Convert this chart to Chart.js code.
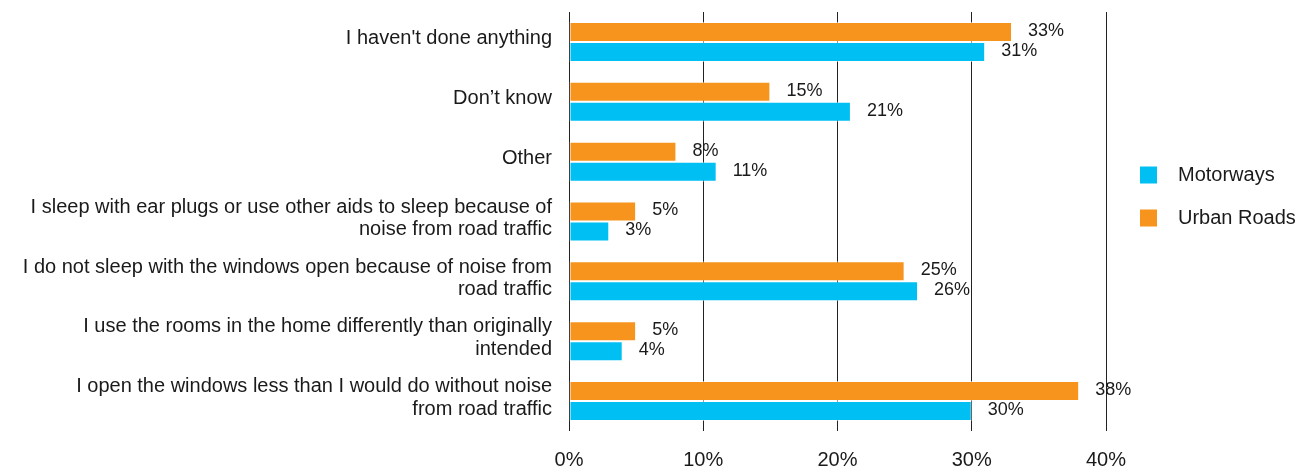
<!DOCTYPE html>
<html>
<head>
<meta charset="utf-8">
<script src="https://cdn.jsdelivr.net/npm/chart.js@4.4.1/dist/chart.umd.min.js"></script>
<style>
  html, body { margin: 0; padding: 0; background: #ffffff; }
  #wrap { width: 1312px; height: 469px; position: relative; }
</style>
</head>
<body>
<div id="wrap"><canvas id="chart" width="1312" height="469"></canvas></div>
<script>
// Survey answers (multi-line labels are arrays of lines)
const categories = [
  "I haven't done anything",
  "Don\u2019t know",
  "Other",
  ["I sleep with ear plugs or use other aids to sleep because of", "noise from road traffic"],
  ["I do not sleep with the windows open because of noise from", "road traffic"],
  ["I use the rooms in the home differently than originally", "intended"],
  ["I open the windows less than I would do without noise", "from road traffic"]
];

// Share of respondents, percent
const urbanRoads = [33, 15, 8, 5, 25, 5, 38];
const motorways  = [31, 21, 11, 3, 26, 4, 30];

const seriesNames = ["Urban Roads", "Motorways"];
const xTicks = [0, 10, 20, 30, 40];

const ORANGE = '#F7941D';
const BLUE = '#00BFF3';
const TEXT = '#1a1a1a';
const FONT = '"Liberation Sans", Arial, Helvetica, sans-serif';

// Value labels to the right of each bar
const valueLabels = {
  id: 'valueLabels',
  afterDatasetsDraw(chart) {
    const ctx = chart.ctx;
    ctx.save();
    ctx.font = '18px ' + FONT;
    ctx.fillStyle = TEXT;
    ctx.textAlign = 'left';
    ctx.textBaseline = 'middle';
    chart.data.datasets.forEach((ds, di) => {
      chart.getDatasetMeta(di).data.forEach((bar, i) => {
        ctx.fillText(ds.data[i] + '%', bar.x + 16, bar.y - 1);
      });
    });
    ctx.restore();
  }
};

// Legend at the right: Motorways listed first
const sideLegend = {
  id: 'sideLegend',
  afterDraw(chart) {
    const ctx = chart.ctx;
    const order = [1, 0];
    ctx.save();
    ctx.font = '20px ' + FONT;
    ctx.textAlign = 'left';
    ctx.textBaseline = 'middle';
    order.forEach((di, k) => {
      const ds = chart.data.datasets[di];
      const cy = 175 + k * 43;
      ctx.fillStyle = ds.backgroundColor;
      ctx.fillRect(1140, cy - 8.5, 17, 17);
      ctx.fillStyle = TEXT;
      ctx.fillText(ds.label, 1178, cy);
    });
    ctx.restore();
  }
};

function fixBox(w, h) {
  return function (scale) {
    if (w !== null) scale.width = w;
    if (h !== null) scale.height = h;
    scale.paddingTop = 0;
    scale.paddingBottom = 0;
    scale.paddingLeft = 0;
    scale.paddingRight = 0;
  };
}

new Chart(document.getElementById('chart'), {
  type: 'bar',
  data: {
    labels: categories,
    datasets: [
      { label: seriesNames[0], data: urbanRoads, backgroundColor: ORANGE,
        borderColor: 'rgba(255,255,255,0.55)', borderWidth: 1, borderSkipped: false },
      { label: seriesNames[1], data: motorways, backgroundColor: BLUE,
        borderColor: 'rgba(255,255,255,0.55)', borderWidth: 1, borderSkipped: false }
    ]
  },
  options: {
    indexAxis: 'y',
    responsive: false,
    animation: false,
    devicePixelRatio: 1,
    layout: { padding: { top: 12, right: 206, left: 0, bottom: 0 } },
    datasets: { bar: { categoryPercentage: 0.668, barPercentage: 1.0 } },
    plugins: {
      legend: { display: false },
      tooltip: { enabled: false }
    },
    scales: {
      x: {
        min: 0,
        max: 40,
        afterBuildTicks(scale) { scale.ticks = xTicks.map(v => ({ value: v })); },
        afterFit: fixBox(null, 38),
        ticks: {
          callback: v => v + '%',
          color: TEXT,
          font: { family: FONT, size: 20 },
          padding: 17,
          maxRotation: 0
        },
        grid: { color: '#222222', lineWidth: 1, drawTicks: false },
        border: { display: false }
      },
      y: {
        afterFit: fixBox(569, null),
        ticks: {
          color: TEXT,
          font: { family: FONT, size: 20, lineHeight: 1.13 },
          padding: 17,
          labelOffset: -3,
          autoSkip: false
        },
        grid: { display: false, drawTicks: false },
        border: { display: false }
      }
    }
  },
  plugins: [valueLabels, sideLegend]
});
</script>
</body>
</html>
